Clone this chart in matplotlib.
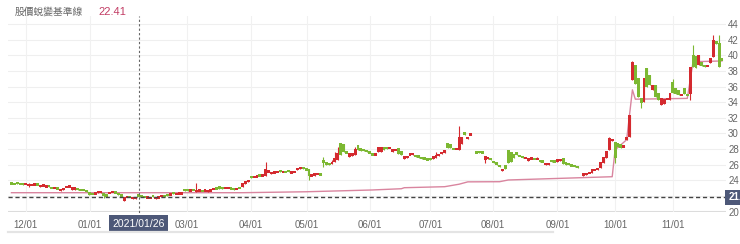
import numpy as np
import pandas as pd
import matplotlib
matplotlib.use("Agg")
import matplotlib.pyplot as plt
from matplotlib.lines import Line2D

plt.rcParams["font.family"] = ["Liberation Sans", "Noto Sans CJK TC", "DejaVu Sans"]

# TWSE trading days for the one-year window shown
tw_holidays = ["2021-01-01", "2021-02-08", "2021-02-09", "2021-02-10", "2021-02-11",
               "2021-02-12", "2021-02-15", "2021-02-16", "2021-03-01", "2021-04-02",
               "2021-04-05", "2021-06-14", "2021-09-20", "2021-09-21", "2021-10-11"]
dates = pd.bdate_range("2020-11-24", "2021-11-24", freq="C", holidays=tw_holidays)

# daily open / close (None = no trade)
opens = [
    23.7, 23.6, 23.8, 23.6, 23.7, 23.5, 23.3, 23.4, 23.4, 23.5,
    23.1, 23.3, 23.2, 23.3, 23.1, 23.0, 23.0, 22.6, 22.8, 23.1,
    23.2, 22.7, 22.8, 22.9, 22.8, 22.8, 22.7, 22.5, 22.3, 22.3,
    22.4, 22.4, 22.4, 22.1, 22.4, 22.5, 22.5, 22.4, 22.3, 21.4,
    21.9, 21.9, 21.6, 21.6, 22.2, 22.1, 21.9, 21.8, 21.7, 22.1,
    21.6, 21.7, 22.0, 22.1, 22.2, 22.2, 22.4, 22.2, 22.2, 22.3,
    22.9, 22.9, 22.7, 22.8, 22.5, 22.7, 22.7, 22.7, 22.5, 22.6,
    22.9, 23.0, 23.3, 23.2, 23.0, 23.0, 23.0, 22.9, 22.9, 23.1,
    23.1, 23.5, 23.8, 24.5, 24.4, 24.5, 24.7, 24.6, 24.5, 25.0,
    24.8, 25.0, 25.0, 25.3, 25.1, 25.1, 25.3, 24.9, 25.1, 25.3,
    25.5, 25.6, 25.5, 25.4, 24.6, 24.5, 24.8, 24.8, 26.6, 26.3,
    26.1, 26.1, 26.3, 26.6, 28.8, 28.6, 27.6, 27.0, 27.1, 27.2,
    28.5, 28.1, 28.0, 27.9, 27.6, 27.4, 27.3, 27.6, 27.6, 28.3,
    28.3, 28.1, 27.6, 27.9, 28.2, 27.8, 26.7, 26.9, 27.3, 27.3,
    27.3, 27.2, 27.0, 26.9, 26.7, 26.8, 26.7, 26.9, 27.1, 27.4,
    27.5, 28.8, 28.6, 28.1, 28.0, 27.9, 28.6, 30.2, 29.3, 29.8,
    None, 27.6, 27.8, 27.6, 26.6, 26.7, 26.8, 26.5, 26.3, 26.0,
    25.2, 25.9, 27.9, 27.6, 27.4, 27.6, 27.2, 27.0, 26.9, 26.5,
    26.8, 26.8, 26.7, 26.6, 26.5, 26.0, 26.0, 26.6, 26.5, 26.4,
    26.5, 26.8, 26.3, 26.2, 26.0, 25.9, 25.8, None, 24.6, 24.7,
    24.9, 24.9, 25.3, 25.3, 25.6, 26.2, 26.9, 27.9, 29.0, 28.9,
    28.8, 28.6, 28.3, 29.2, 29.5, 36.9, 38.8, 37.1, 34.5, 34.0,
    38.4, 37.5, 35.6, 36.2, 35.2, 33.6, 33.8, 34.4, 34.3, 36.6,
    35.8, 35.6, 34.9, 35.8, 35.0, 35.0, 40.1, 39.9, 38.8, 39.2,
    38.8, 38.6, 39.0, 39.8, 41.8, 41.6, 39.6,
]
closes = [
    23.5, 23.5, 23.5, 23.5, 23.4, 23.5, 23.5, 23.4, 23.5, 23.4,
    23.4, 23.4, 23.2, 23.2, 23.0, 23.0, 22.9, 22.9, 22.9, 23.2,
    23.2, 23.1, 23.1, 22.8, 22.7, 22.7, 22.5, 22.1, 22.2, 22.3,
    22.6, 22.6, 22.0, 22.0, 22.4, 22.5, 22.4, 22.1, 21.9, 21.8,
    21.9, 21.8, 21.8, 21.8, 21.8, 21.8, 21.8, 21.8, 21.7, 21.9,
    21.9, 21.9, 22.0, 21.9, 22.0, 22.2, 22.3, 22.3, 22.4, 22.3,
    22.6, 22.6, 22.7, 22.7, 22.7, 22.7, 22.6, 22.7, 22.8, 22.8,
    22.9, 22.9, 22.9, 22.9, 23.0, 23.0, 22.9, 22.8, 22.9, 23.0,
    23.6, 23.9, 24.1, 24.3, 24.4, 24.5, 24.5, 24.6, 25.4, 25.3,
    25.1, 25.0, 25.1, 25.1, 25.1, 25.0, 25.1, 25.1, 25.1, 25.6,
    25.6, 25.5, 25.3, 24.5, 24.6, 24.9, 24.8, 24.7, 26.2, 26.0,
    26.0, 26.4, 26.9, 27.5, 27.2, 27.6, 27.5, 27.5, 27.5, 28.0,
    27.9, 27.7, 27.7, 27.6, 27.5, 27.2, 27.3, 28.3, 28.3, 27.9,
    28.0, 28.1, 28.0, 27.9, 27.4, 27.2, 27.1, 27.1, 27.3, 27.4,
    27.0, 26.8, 26.7, 26.7, 26.6, 26.6, 27.1, 27.2, 27.4, 27.6,
    27.9, 28.1, 28.2, 28.0, 28.0, 29.5, 29.6, 29.8, 29.5, 29.9,
    None, 27.5, 27.5, 27.5, 27.1, 27.0, 26.6, 26.2, 26.0, 25.7,
    25.5, 25.5, 26.2, 26.4, 26.9, 27.2, 27.1, 26.9, 26.9, 26.8,
    26.8, 26.7, 26.7, 26.4, 26.3, 26.2, 26.2, 26.3, 26.3, 26.7,
    26.7, 26.1, 26.0, 25.9, 25.8, 25.7, 25.6, None, 24.9, 24.9,
    24.9, 25.5, 25.3, 25.6, 26.3, 27.0, 27.8, 29.4, 29.3, 26.8,
    28.3, 28.2, 28.4, 29.6, 32.4, 39.2, 36.4, 34.7, 33.9, 37.1,
    36.0, 36.2, 36.2, 34.7, 34.3, 34.5, 34.4, 34.5, 35.2, 35.2,
    35.1, 34.9, 34.9, 35.0, 34.9, 38.5, 38.5, 38.4, 40.1, 38.6,
    38.5, 38.7, 39.7, 42.0, 41.5, 38.5, 39.4,
]
# visible shadows beyond the bodies (day index -> price)
wick_highs = {6: 23.6, 64: 23.6, 88: 26.3, 108: 27.0, 111: 26.6, 112: 27.6, 113: 28.3,
              119: 28.3, 147: 27.6, 155: 31.0, 182: 27.0, 207: 29.6, 215: 39.3,
              229: 37.0, 236: 41.3, 243: 42.6, 245: 42.6}
wick_lows = {6: 23.1, 32: 21.7, 103: 24.0, 108: 25.7, 164: 26.2, 209: 26.2,
             218: 33.3, 235: 34.3}

# baseline (day index, value)
base_days = [0, 80, 102, 125, 135, 136, 150, 155, 158, 169, 172, 208, 209, 213, 215,
             216, 234, 236, 246]
base_vals = [22.41, 22.41, 22.53, 22.76, 22.92, 23.05, 23.18, 23.5, 23.8, 23.82, 24.04,
             24.46, 27.9, 29.2, 35.6, 34.4, 34.5, 39.2, 39.3]

# 02/01 sits under the crosshair date tag, so it is not labelled
month_starts = ["2020-12-01", "2021-01-01", "2021-03-01", "2021-04-01", "2021-05-01",
                "2021-06-01", "2021-07-01", "2021-08-01", "2021-09-01", "2021-10-01",
                "2021-11-01"]
month_labels = ["12/01", "01/01", "03/01", "04/01", "05/01", "06/01", "07/01", "08/01",
                "09/01", "10/01", "11/01"]
grid_levels = [20, 22, 24, 26, 28, 30, 32, 34, 36, 38, 40, 42, 44]
# 22 is covered by the reference-price tag
y_ticks = [20, 24, 26, 28, 30, 32, 34, 36, 38, 40, 42, 44]

ref_price = 21.8
cross_date = "2021-01-26"
base_value_label = "22.41"

RED = "#d42a2f"
GREEN = "#7cb832"
PINK = "#d9859f"
TAG = "#4d5878"

x = np.arange(len(dates))
o = np.array(opens, dtype=float)
c = np.array(closes, dtype=float)
hi = np.fmax(o, c)
lo = np.fmin(o, c)
for k, v in wick_highs.items():
    hi[k] = v
for k, v in wick_lows.items():
    lo[k] = v

day_num = dates.values.astype("datetime64[D]").astype(float)
tick_pos = np.interp(pd.to_datetime(month_starts).values.astype("datetime64[D]").astype(float),
                     day_num, x)
cross_x = np.interp(np.datetime64(cross_date, "D").astype(float), day_num, x)

fig = plt.figure(figsize=(7.4, 2.44), dpi=100)
ax = fig.add_axes([8 / 740, 32.5 / 244, 718 / 740, 195 / 244])
ax.set_xlim(-1.2, 247.4)
ax.set_ylim(20, 45)

for yv in grid_levels:
    ax.axhline(yv, color="#dcdcdc" if yv == 20 else "#efefef", lw=0.8, zorder=0)
for tp in tick_pos:
    ax.axvline(tp, color="#f1f1f1", lw=0.8, zorder=0)

ax.plot(base_days, base_vals, color=PINK, lw=1.0, zorder=2)

ok = ~np.isnan(o)
up = c >= o
cols = np.where(up, RED, GREEN)
ax.vlines(x[ok], lo[ok], hi[ok], colors=cols[ok], lw=0.8, zorder=3)
diff = np.abs(c - o)
body = np.maximum(diff, 0.3)
bottom = np.fmin(o, c) - (body - diff) / 2
ax.bar(x[ok], body[ok], bottom=bottom[ok], width=1.0, color=cols[ok], lw=0, zorder=4)

# reference price + crosshair
ax.axhline(ref_price, color="#444444", lw=1.0, dashes=(3, 2), zorder=5)
ax.axvline(cross_x, ymin=-0.03, ymax=1.0, color="#666666", lw=0.8, dashes=(2, 2),
           clip_on=False, zorder=5)

for s in ax.spines.values():
    s.set_visible(False)
ax.set_xticks(tick_pos, month_labels)
ax.yaxis.tick_right()
ax.set_yticks(y_ticks)
ax.tick_params(axis="both", length=0, labelsize=7, labelcolor="#666666")
ax.tick_params(axis="x", pad=6)
ax.tick_params(axis="y", pad=1.5)

ax.text(cross_x, -0.062, pd.Timestamp(cross_date).strftime("%Y/%m/%d"),
        transform=ax.get_xaxis_transform(), ha="center", va="center", fontsize=7.5,
        color="white", clip_on=False, zorder=10,
        bbox=dict(boxstyle="square,pad=0.3", fc=TAG, ec="none"))
ax.text(1.003, ref_price, f"{ref_price:.1f}", transform=ax.get_yaxis_transform(),
        ha="left", va="center", fontsize=7, color="white", fontweight="bold",
        clip_on=False, zorder=10,
        bbox=dict(boxstyle="square,pad=0.3", fc=TAG, ec="none"))

fig.text(15 / 740, 1 - 12 / 244, "股價蛻變基準線", fontsize=7, color="#666666",
         va="center", family=["Noto Sans CJK TC", "DejaVu Sans"])
fig.text(98 / 740, 1 - 12 / 244, base_value_label, fontsize=8, color="#c23c64",
         va="center")

# range-selector track under the axis
fig.add_artist(Line2D([8 / 740, 553 / 740], [12 / 244, 12 / 244], color="#e4e4e4",
                      lw=1.6, transform=fig.transFigure))

fig.savefig("out.png", dpi=100)
